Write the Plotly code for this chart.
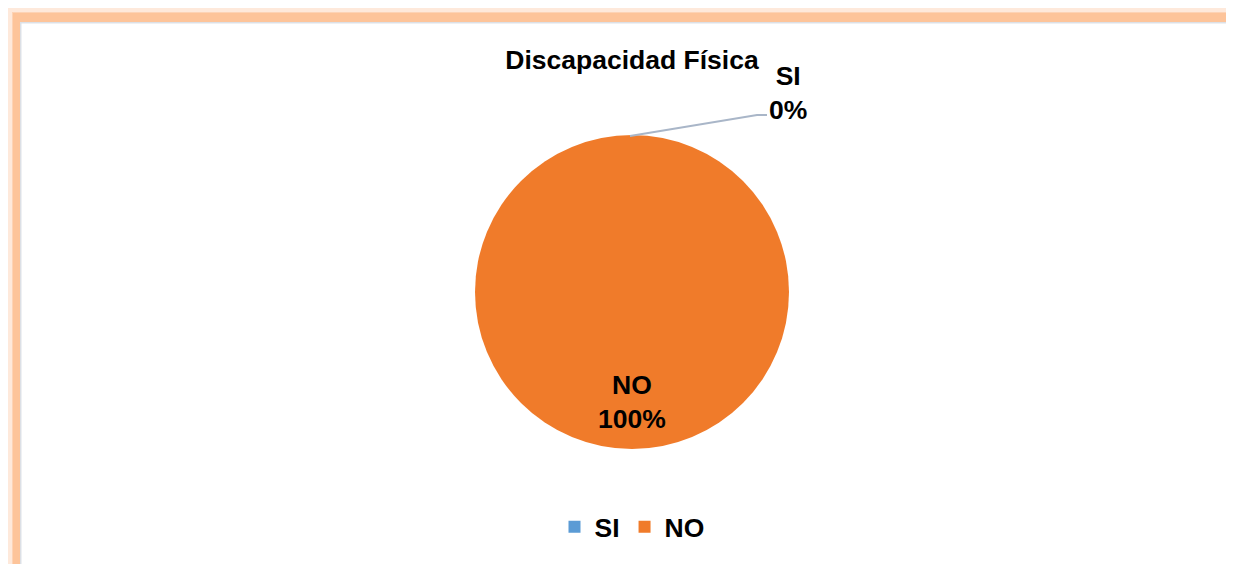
import plotly.graph_objects as go

# datos
labels = ["SI", "NO"]
values = [0, 100]
colors = ["#5B9BD5", "#F07B2A"]
title_text = "Discapacidad Física"

OFF = 8  # page body margin shifts the plot by 8px
W, H = 1234 - OFF, 564 - OFF
cx, cy, r = 632, 292, 157  # pie centre / radius in screen px

def px(x):
    return (x - OFF) / W

def py(y):
    return (H - (y - OFF)) / H

total = sum(values)
pcts = [round(v * 100 / total) for v in values]

fig = go.Figure()

fig.add_trace(go.Pie(
    labels=labels,
    values=values,
    marker=dict(colors=colors, line=dict(color="white", width=0)),
    textinfo="none",
    sort=False,
    direction="clockwise",
    rotation=0,
    domain=dict(x=[px(cx - r), px(cx + r)], y=[py(cy + r), py(cy - r)]),
    showlegend=True,
    hoverinfo="label+percent",
))

font_b = dict(family="Liberation Sans, Arial, sans-serif", size=26.5, color="black", weight="bold")

# etiqueta dentro (NO)
fig.add_annotation(
    x=px(cx), y=py(402), xref="paper", yref="paper",
    text=f"{labels[1]}<br>{pcts[1]}%", showarrow=False,
    font=font_b, xanchor="center", yanchor="middle",
)
# etiqueta fuera (SI) con linea guia
fig.add_annotation(
    x=px(788), y=py(93), xref="paper", yref="paper",
    text=f"{labels[0]}<br>{pcts[0]}%", showarrow=False,
    font=font_b, xanchor="center", yanchor="middle",
)
fig.add_shape(
    type="path", xref="paper", yref="paper",
    path=f"M {px(cx - 2)} {py(cy - r + 1)} L {px(757)} {py(115)} L {px(767)} {py(115)}",
    line=dict(color="#A9B6C8", width=2),
)

# marco naranja
glow = [(4, "#FFF6F0"), (8, "#FEE9DB"), (12, "#FDD3B5")]
for off, col in glow:
    fig.add_shape(type="rect", xref="paper", yref="paper",
                  x0=px(off), x1=px(1300), y0=py(700), y1=py(off),
                  fillcolor=col, line_width=0, layer="below")
fig.add_shape(type="rect", xref="paper", yref="paper",
              x0=px(13), x1=px(1300), y0=py(700), y1=py(13),
              fillcolor="#FDC49A", line_width=0, layer="below")
fig.add_shape(type="rect", xref="paper", yref="paper",
              x0=px(20), x1=px(1300), y0=py(700), y1=py(22),
              fillcolor="#DCE0E6", line_width=0, layer="below")
fig.add_shape(type="rect", xref="paper", yref="paper",
              x0=px(21.5), x1=px(1300), y0=py(700), y1=py(23.5),
              fillcolor="white", line_width=0, layer="below")

fig.update_layout(
    width=W, height=H,
    margin=dict(l=0, r=0, t=0, b=0),
    paper_bgcolor="white",
    title=dict(text=title_text, x=px(632), xanchor="center", y=py(60), yanchor="middle",
               font=font_b),
    legend=dict(orientation="h", x=px(632), xanchor="center", y=py(527), yanchor="middle",
                font=font_b, itemwidth=30, traceorder="normal"),
)

fig.write_html("out.html")
